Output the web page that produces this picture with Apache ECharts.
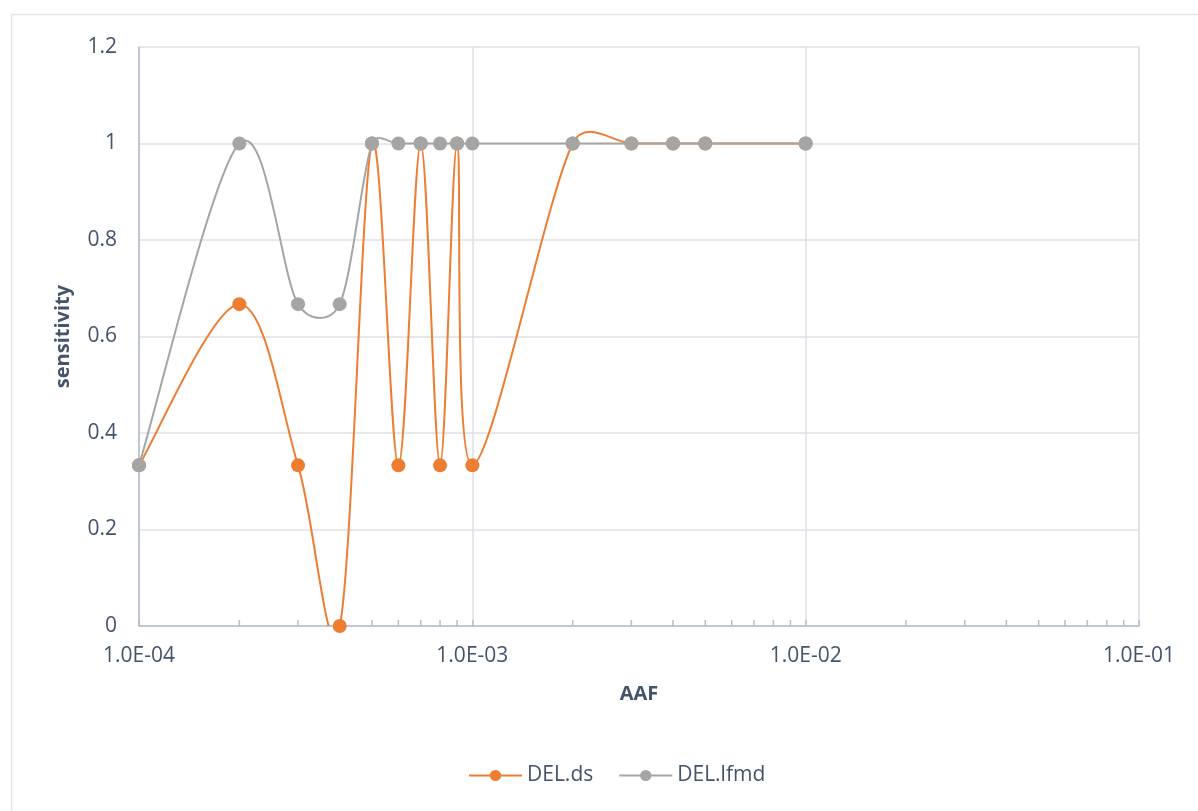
<!DOCTYPE html>
<html>
<head>
<meta charset="utf-8">
<script src="https://cdn.jsdelivr.net/npm/echarts@6/dist/echarts.min.js"></script>
<style>
  html, body { margin: 0; padding: 0; background: #fff; }
  #chart { width: 1198px; height: 811px; }
</style>
</head>
<body>
<div id="chart"></div>
<script>
(function() {
  // AAF values (x), sensitivity per series (y)
  var aaf = [1e-4, 2e-4, 3e-4, 4e-4, 5e-4, 6e-4, 7e-4, 8e-4, 9e-4, 1e-3, 2e-3, 3e-3, 4e-3, 5e-3, 1e-2];
  var delDs = [0.333, 0.667, 0.333, 0, 1, 0.333, 1, 0.333, 1, 0.333, 1, 1, 1, 1, 1];
  var delLfmd = [0.333, 1, 0.667, 0.667, 1, 1, 1, 1, 1, 1, 1, 1, 1, 1, 1];
  var minorTicks = [2e-4, 3e-4, 4e-4, 5e-4, 6e-4, 7e-4, 8e-4, 9e-4,
                    2e-3, 3e-3, 4e-3, 5e-3, 6e-3, 7e-3, 8e-3, 9e-3,
                    2e-2, 3e-2, 4e-2, 5e-2, 6e-2, 7e-2, 8e-2, 9e-2];

  var orange = '#ed7d31';
  var gray = '#a5a5a5';
  var ink = '#44546a';
  var axisCol = '#b4bdcb';
  var gridCol = '#dde2e9';
  var font = 'Open Sans';

  function pairs(ys) {
    return aaf.map(function(x, i) { return [x, ys[i]]; });
  }

  function sci(v) {
    var e = Math.round(Math.log10(v));
    var a = Math.abs(e);
    return '1.0E' + (e < 0 ? '-' : '+') + (a < 10 ? '0' : '') + a;
  }

  // spreadsheet-style smoothing: bezier arm = (next - prev) / 6, capped at half the segment
  function arm(p, q, seg) {
    var dx = (q[0] - p[0]) / 6, dy = (q[1] - p[1]) / 6;
    var len = Math.sqrt(dx * dx + dy * dy), cap = seg / 2;
    if (len > cap && len > 0) { dx *= cap / len; dy *= cap / len; }
    return [dx, dy];
  }

  function curve(ys, color) {
    return function(params, api) {
      var i = params.dataIndex, n = aaf.length;
      if (i >= n - 1) return null;
      function pt(k) {
        k = Math.max(0, Math.min(n - 1, k));
        return api.coord([aaf[k], ys[k]]);
      }
      var p0 = pt(i - 1), p1 = pt(i), p2 = pt(i + 1), p3 = pt(i + 2);
      var seg = Math.sqrt(Math.pow(p2[0] - p1[0], 2) + Math.pow(p2[1] - p1[1], 2));
      var a1 = arm(p0, p2, seg), a2 = arm(p1, p3, seg);
      return {
        type: 'bezierCurve',
        shape: {
          x1: p1[0], y1: p1[1], x2: p2[0], y2: p2[1],
          cpx1: p1[0] + a1[0], cpy1: p1[1] + a1[1],
          cpx2: p2[0] - a2[0], cpy2: p2[1] - a2[1]
        },
        style: { stroke: color, lineWidth: 2, fill: null }
      };
    };
  }

  var chart = echarts.init(document.getElementById('chart'), null, { renderer: 'canvas' });
  chart.setOption({
    animation: false,
    textStyle: { fontFamily: font },
    graphic: [{
      type: 'rect',
      left: 9, top: 12,
      shape: { width: 1200, height: 810 },
      style: { fill: 'none', stroke: '#e2e5e9', lineWidth: 1.5 },
      silent: true
    }],
    grid: { left: 139, right: 59, top: 47, bottom: 185 },
    legend: {
      data: ['DEL.ds', 'DEL.lfmd'],
      left: 463, top: 760,
      itemWidth: 53, itemHeight: 14, itemGap: 25,
      lineStyle: { opacity: 1, width: 2 },
      textStyle: { color: ink, fontSize: 21, fontFamily: font }
    },
    xAxis: {
      type: 'log', logBase: 10, min: 1e-4, max: 1e-1,
      name: 'AAF', nameLocation: 'middle', nameGap: 58,
      nameTextStyle: { color: ink, fontSize: 20, fontWeight: 'bold', fontFamily: font },
      axisLine: { lineStyle: { color: axisCol, width: 1.5 } },
      axisTick: { show: true, inside: true, length: 6, lineStyle: { color: axisCol, width: 1.5 } },
      axisLabel: { color: ink, fontSize: 21, margin: 20, formatter: sci },
      splitLine: { show: true, lineStyle: { color: gridCol, width: 1.5 } }
    },
    yAxis: {
      type: 'value', min: 0, max: 1.2, interval: 0.2,
      name: 'sensitivity', nameLocation: 'middle', nameGap: 66, nameRotate: 90,
      nameTextStyle: { color: ink, fontSize: 20, fontWeight: 'bold', fontFamily: font },
      axisLine: { show: true, lineStyle: { color: axisCol, width: 1.5 } },
      axisTick: { show: false },
      axisLabel: { color: ink, fontSize: 21, margin: 22,
        formatter: function(v) { return String(Math.round(v * 10) / 10); } },
      splitLine: { lineStyle: { color: gridCol, width: 1.5 } }
    },
    series: [
      {
        name: 'DEL.ds curve', type: 'custom', silent: true, clip: true,
        data: pairs(delDs), renderItem: curve(delDs, orange), z: 2
      },
      {
        name: 'DEL.ds', type: 'line', clip: false,
        data: pairs(delDs),
        symbol: 'circle', symbolSize: 14,
        itemStyle: { color: orange },
        lineStyle: { color: orange, width: 2, opacity: 0 },
        z: 3
      },
      {
        name: 'DEL.lfmd curve', type: 'custom', silent: true, clip: true,
        data: pairs(delLfmd), renderItem: curve(delLfmd, gray), z: 4
      },
      {
        name: 'DEL.lfmd', type: 'line', clip: false,
        data: pairs(delLfmd),
        symbol: 'circle', symbolSize: 14,
        itemStyle: { color: gray },
        lineStyle: { color: gray, width: 2, opacity: 0 },
        z: 5
      },
      {
        name: 'minorTicks', type: 'custom', silent: true, clip: false,
        data: minorTicks.map(function(v) { return [v, 0]; }),
        renderItem: function(params, api) {
          var p = api.coord([api.value(0), 0]);
          return {
            type: 'line',
            shape: { x1: p[0], y1: p[1], x2: p[0], y2: p[1] - 6 },
            style: { stroke: axisCol, lineWidth: 1.5 }
          };
        },
        z: 1
      }
    ]
  });
})();
</script>
</body>
</html>
